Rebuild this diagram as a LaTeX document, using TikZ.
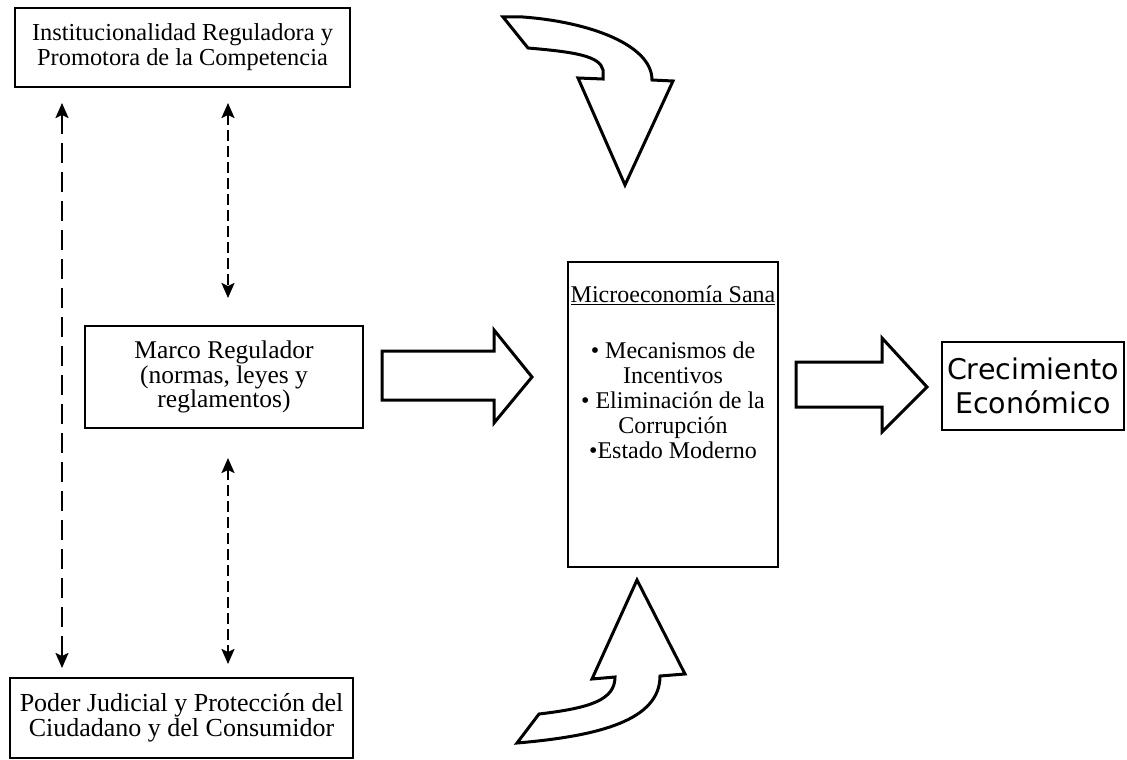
\documentclass[tikz,border=0pt]{standalone}
\usepackage{fontspec}
\setmainfont{Liberation Serif}
\newfontfamily\crecfont{DejaVu Sans}
\usetikzlibrary{arrows.meta}
\begin{document}
\begin{tikzpicture}[x=1pt,y=-1pt,
  box/.style={draw, line width=2pt, align=center, font=\fontsize{24}{25}\selectfont, inner sep=0pt},
  dasharrow/.style={line width=2.2pt, {Stealth[length=15pt,width=13pt,inset=3pt]}-{Stealth[length=15pt,width=13pt,inset=3pt]}},
  longdash/.style={dash pattern=on 20pt off 9pt},
  shortdash/.style={dash pattern=on 11pt off 5pt},
  blockarrow/.style={draw, line width=3pt, fill=white, line join=miter}]
\useasboundingbox (0,0) rectangle (1127,760);

% boxes
\node[box, minimum width=335pt, minimum height=79pt, font=\fontsize{24.4}{25}\selectfont] (inst) at (182.5,47.5)
  {Institucionalidad Reguladora y\\Promotora de la Competencia};
\node[box, minimum width=278pt, minimum height=102pt, font=\fontsize{25.5}{22}\selectfont] (marco) at (224,377)
  {Marco Regulador\\(normas, leyes y\\reglamentos)};
\node[box, minimum width=343pt, minimum height=80pt, font=\fontsize{26}{25}\selectfont] (poder) at (181.5,718)
  {Poder Judicial y Protección del\\Ciudadano y del Consumidor};
\node[box, minimum width=210pt, minimum height=305pt] (micro) at (673,414.5) {};
\node[anchor=north, align=center, font=\fontsize{24}{25}\selectfont, inner sep=0pt] (microtxt) at (673,286)
  {\underline{Microeconomía Sana}\\[31pt]• Mecanismos de\\Incentivos\\• Eliminación de la\\Corrupción\\•Estado Moderno};
\node[box, minimum width=182pt, minimum height=88pt, font=\crecfont\fontsize{28.5}{34}\selectfont] (crec) at (1033,386)
  {Crecimiento\\Económico};

% dashed arrows
\coordinate (la) at (62,103);
\coordinate (lb) at (62,668);
\coordinate (ma) at (228,103);
\coordinate (mb) at (228,298);
\coordinate (mc) at (228,458);
\coordinate (md) at (228,664);
\draw[dasharrow, longdash] (la) -- (lb);
\draw[dasharrow, shortdash] (ma) -- (mb);
\draw[dasharrow, shortdash] (mc) -- (md);

% block arrows
\draw[blockarrow] (382,351) -- (494,351) -- (494,330) -- (532,377) -- (494,423) -- (494,400) -- (382,400) -- cycle;
\draw[blockarrow] (796,362) -- (882,362) -- (882,338) -- (927,387) -- (882,432) -- (882,407) -- (796,407) -- cycle;

% curved arrows
\draw[blockarrow] (503,17) -- (523,17) .. controls (590,22) and (652,45) .. (652,80)
  -- (673,81) -- (625,185) -- (578,78) -- (603,79) -- (603,70)
  .. controls (600,56) and (575,52) .. (528,48) -- cycle;
\draw[blockarrow] (637,580) -- (685,674) -- (660,676)
  .. controls (660,720) and (600,736) .. (517,743) -- (539,714)
  .. controls (590,708) and (615,700) .. (615,677) -- (592,679) -- cycle;
\end{tikzpicture}
\end{document}
